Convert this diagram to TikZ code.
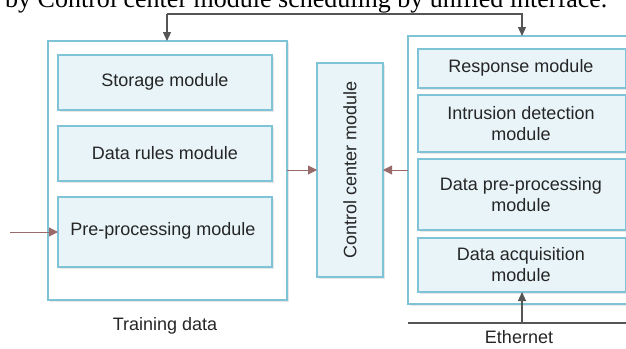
\documentclass[tikz,border=0pt]{standalone}
\usepackage{fontspec}
\setmainfont{Liberation Sans}
\newfontfamily\serifcap{Liberation Serif}
\usetikzlibrary{arrows.meta,shadows}
\definecolor{boxline}{HTML}{7EC4D6}
\definecolor{boxfill}{HTML}{E8F4F8}
\definecolor{flowarrow}{HTML}{9A6A6A}
\definecolor{ctrlarrow}{HTML}{555555}
\tikzset{
  outerbox/.style={draw=boxline, line width=1.1pt, fill=white,
    drop shadow={shadow xshift=2pt, shadow yshift=-2pt, fill=black!18}},
  modbox/.style={draw=boxline, line width=1.1pt, fill=boxfill,
    drop shadow={shadow xshift=2pt, shadow yshift=-2pt, fill=black!18}},
  lbl/.style={font=\fontsize{18}{21}\selectfont, align=center, text=black!85},
  flow/.style={draw=flowarrow, line width=1pt, -{Triangle[length=9pt,width=9pt]}},
  ctrl/.style={draw=ctrlarrow, line width=1.1pt, -{Triangle[length=9pt,width=8pt]}},
}
\begin{document}
\begin{tikzpicture}[x=1pt,y=-1pt]
\useasboundingbox (0,0) rectangle (626,348);
\clip (0,0) rectangle (626,348);
\fill[white] (0,0) rectangle (626,348);

% caption line running off the top edge
\node[anchor=base west, font=\serifcap\fontsize{26}{30}\selectfont, inner sep=0] (cap) at (5,7)
  {by Control center module scheduling by unified interface.};

% outer containers
\path[outerbox] (48,41) rectangle (287,300);
\coordinate (lbox) at (167,41);
\coordinate (lboxE) at (287,170);
\path[outerbox] (408,36) rectangle (640,304);
\coordinate (rbox) at (522,36);
\coordinate (rboxW) at (408,170);

% left modules
\path[modbox] (58,55) rectangle (272,110);
\node[lbl] (storage) at (165,82) {Storage module};
\path[modbox] (58,126) rectangle (272,181);
\node[lbl] (rules) at (165,153) {Data rules module};
\path[modbox] (58,197) rectangle (272,267);
\node[lbl] (prep) at (163,231) {Pre-processing module};
\coordinate (prepW) at (58,232);

% control center
\path[modbox] (317,63) rectangle (383,277);
\node[lbl, rotate=90] (ctrlc) at (350,170) {Control center module};
\coordinate (ctrlW) at (317,170);
\coordinate (ctrlE) at (383,170);

% right modules
\path[modbox] (418,49) rectangle (626,88);
\node[lbl] (resp) at (521,68) {Response module};
\path[modbox] (418,95) rectangle (626,152);
\node[lbl] (intr) at (521,124) {Intrusion detection\\module};
\path[modbox] (418,159) rectangle (626,230);
\node[lbl] (dpre) at (521,195) {Data pre-processing\\module};
\path[modbox] (418,238) rectangle (626,292);
\node[lbl] (acq) at (521,265) {Data acquisition\\module};
\coordinate (acqS) at (522,292);

% labels below
\node[lbl] (train) at (165,326) {Training data};
\node[lbl] (eth) at (519,337) {Ethernet};

% ethernet bus
\coordinate (busL) at (408,323);
\coordinate (busR) at (626,323);
\coordinate (busT) at (522,323);
\draw[ctrlarrow, line width=1.1pt] (busL) -- (busR);
\draw[ctrl] (busT) -- (acqS);

% scheduling connector
\coordinate (topL) at (167,14);
\coordinate (topR) at (522,14);
\draw[ctrl] (topL) -- (topR) -- (rbox);
\draw[ctrl] (topL) -- (lbox);

% data flow arrows
\coordinate (inL) at (10,232);
\draw[flow] (inL) -- (prepW);
\draw[flow] (lboxE) -- (ctrlW);
\draw[flow] (rboxW) -- (ctrlE);
\end{tikzpicture}
\end{document}
